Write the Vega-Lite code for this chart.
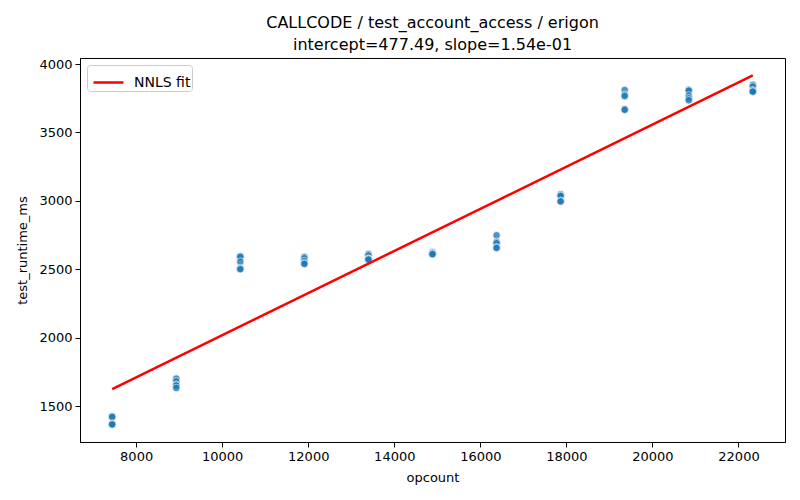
{
  "$schema": "https://vega.github.io/schema/vega-lite/v6.json",
  "description": "CALLCODE test_account_access runtime vs opcount with NNLS fit",
  "autosize": {"type": "none"},
  "padding": {"left": 80, "top": 58, "right": 15, "bottom": 58},
  "width": 705,
  "height": 384,
  "background": "white",
  "title": {
    "text": ["CALLCODE / test_account_access / erigon", "intercept=477.49, slope=1.54e-01"],
    "font": "DejaVu Sans",
    "fontSize": 16,
    "fontWeight": "normal",
    "color": "black",
    "anchor": "middle",
    "lineHeight": 22,
    "offset": 5
  },
  "config": {
    "view": {"stroke": "black", "strokeWidth": 1},
    "axis": {
      "grid": false,
      "domainColor": "black",
      "tickColor": "black",
      "tickSize": 5,
      "labelFont": "DejaVu Sans",
      "labelFontSize": 13,
      "labelColor": "black",
      "titleFont": "DejaVu Sans",
      "titleFontSize": 13,
      "titleFontWeight": "normal",
      "titleColor": "black",
      "labelPadding": 3,
      "labelFlush": false
    }
  },
  "datasets": {
    "runs": [
      {"opcount": 7443, "test_runtime_ms": 1425},
      {"opcount": 7443, "test_runtime_ms": 1420},
      {"opcount": 7443, "test_runtime_ms": 1370},
      {"opcount": 7443, "test_runtime_ms": 1368},
      {"opcount": 7443, "test_runtime_ms": 1365},
      {"opcount": 8932, "test_runtime_ms": 1700},
      {"opcount": 8932, "test_runtime_ms": 1680},
      {"opcount": 8932, "test_runtime_ms": 1655},
      {"opcount": 8932, "test_runtime_ms": 1650},
      {"opcount": 8932, "test_runtime_ms": 1632},
      {"opcount": 10421, "test_runtime_ms": 2595},
      {"opcount": 10421, "test_runtime_ms": 2590},
      {"opcount": 10421, "test_runtime_ms": 2555},
      {"opcount": 10421, "test_runtime_ms": 2505},
      {"opcount": 10421, "test_runtime_ms": 2500},
      {"opcount": 11910, "test_runtime_ms": 2590},
      {"opcount": 11910, "test_runtime_ms": 2580},
      {"opcount": 11910, "test_runtime_ms": 2560},
      {"opcount": 11910, "test_runtime_ms": 2545},
      {"opcount": 11910, "test_runtime_ms": 2538},
      {"opcount": 13399, "test_runtime_ms": 2610},
      {"opcount": 13399, "test_runtime_ms": 2600},
      {"opcount": 13399, "test_runtime_ms": 2578},
      {"opcount": 13399, "test_runtime_ms": 2575},
      {"opcount": 13399, "test_runtime_ms": 2570},
      {"opcount": 14888, "test_runtime_ms": 2625},
      {"opcount": 14888, "test_runtime_ms": 2620},
      {"opcount": 14888, "test_runtime_ms": 2615},
      {"opcount": 14888, "test_runtime_ms": 2612},
      {"opcount": 14888, "test_runtime_ms": 2610},
      {"opcount": 16377, "test_runtime_ms": 2748},
      {"opcount": 16377, "test_runtime_ms": 2700},
      {"opcount": 16377, "test_runtime_ms": 2690},
      {"opcount": 16377, "test_runtime_ms": 2660},
      {"opcount": 16377, "test_runtime_ms": 2655},
      {"opcount": 17866, "test_runtime_ms": 3048},
      {"opcount": 17866, "test_runtime_ms": 3040},
      {"opcount": 17866, "test_runtime_ms": 3035},
      {"opcount": 17866, "test_runtime_ms": 3000},
      {"opcount": 17866, "test_runtime_ms": 2995},
      {"opcount": 19355, "test_runtime_ms": 3810},
      {"opcount": 19355, "test_runtime_ms": 3775},
      {"opcount": 19355, "test_runtime_ms": 3765},
      {"opcount": 19355, "test_runtime_ms": 3670},
      {"opcount": 19355, "test_runtime_ms": 3665},
      {"opcount": 20844, "test_runtime_ms": 3812},
      {"opcount": 20844, "test_runtime_ms": 3805},
      {"opcount": 20844, "test_runtime_ms": 3770},
      {"opcount": 20844, "test_runtime_ms": 3750},
      {"opcount": 20844, "test_runtime_ms": 3735},
      {"opcount": 22333, "test_runtime_ms": 3848},
      {"opcount": 22333, "test_runtime_ms": 3835},
      {"opcount": 22333, "test_runtime_ms": 3808},
      {"opcount": 22333, "test_runtime_ms": 3800},
      {"opcount": 22333, "test_runtime_ms": 3798}
    ],
    "fit": [
      {"opcount": 7443, "test_runtime_ms": 1623.7, "label": "NNLS fit"},
      {"opcount": 22333, "test_runtime_ms": 3916.8, "label": "NNLS fit"}
    ]
  },
  "layer": [
    {
      "data": {"name": "runs"},
      "mark": {
        "type": "circle",
        "fill": "#1f77b4",
        "opacity": 0.78,
        "size": 58,
        "stroke": "white",
        "strokeWidth": 0.75
      },
      "encoding": {
        "x": {
          "field": "opcount",
          "type": "quantitative",
          "scale": {"domain": [6695, 23081], "nice": false, "zero": false},
          "axis": {"values": [8000, 10000, 12000, 14000, 16000, 18000, 20000, 22000], "format": "d", "title": "opcount", "titlePadding": 8}
        },
        "y": {
          "field": "test_runtime_ms",
          "type": "quantitative",
          "scale": {"domain": [1237, 4044], "nice": false, "zero": false},
          "axis": {"values": [1500, 2000, 2500, 3000, 3500, 4000], "format": "d", "title": "test_runtime_ms", "titlePadding": 9}
        }
      }
    },
    {
      "data": {"name": "fit"},
      "mark": {"type": "line", "strokeWidth": 2.5},
      "encoding": {
        "x": {"field": "opcount", "type": "quantitative"},
        "y": {"field": "test_runtime_ms", "type": "quantitative"},
        "color": {
          "field": "label",
          "type": "nominal",
          "scale": {"domain": ["NNLS fit"], "range": ["red"]},
          "legend": {
            "title": null,
            "orient": "top-left",
            "offset": 7,
            "padding": 1,
            "fillColor": "white",
            "strokeColor": "#cccccc",
            "cornerRadius": 3,
            "symbolType": "stroke",
            "symbolSize": 900,
            "symbolOffset": 4,
            "symbolStrokeWidth": 2.5,
            "labelFont": "DejaVu Sans",
            "labelFontSize": 14,
            "labelColor": "black",
            "labelOffset": 9
          }
        }
      }
    }
  ]
}
